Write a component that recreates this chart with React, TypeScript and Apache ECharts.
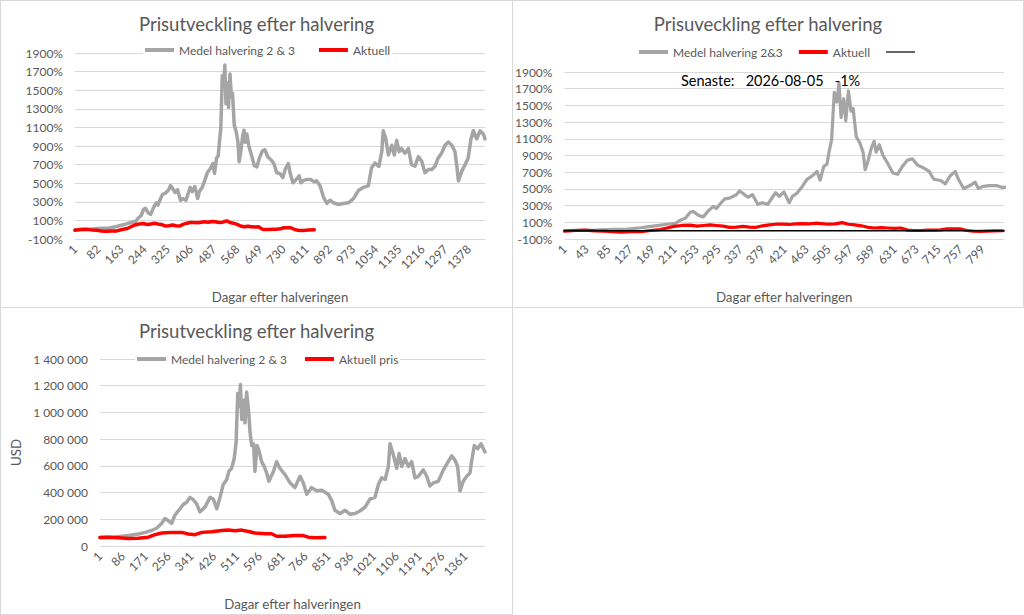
import React, { useEffect, useRef } from "react";
import * as echarts from "echarts";

const FONT = "Lato, 'Liberation Sans', sans-serif";
const TXT = "#595959";
const GRIDC = "#d9d9d9";
const GRAY = "#a5a5a5";
const RED = "#ff0000";

const TITLE_A = "Prisutveckling efter halvering";
const TITLE_B = "Prisuveckling efter halvering";
const X_NAME = "Dagar efter halveringen";
const LATEST_DATE = "2026-08-05";

const grayDays = [
  1, 27, 53, 71, 97, 122, 147, 159, 178, 197, 213, 222, 232, 241, 247, 257, 266, 276, 285, 291,
  301, 307, 316, 329, 335, 342, 351, 360, 370, 379, 389, 398, 404, 411, 420, 430, 436, 445, 455, 464,
  474, 483, 489, 496, 502, 506, 511, 516, 521, 525, 529, 534, 538, 543, 548, 552, 558, 565, 571, 575,
  580, 587, 592, 596, 602, 609, 618, 628, 637, 646, 656, 665, 675, 687, 697, 706, 719, 728, 737, 747,
  753, 763, 775, 785, 791, 800, 813, 825, 838, 846, 858, 870, 882, 893, 904, 922, 939, 957, 975, 992,
  1010, 1027, 1038, 1050, 1064, 1074, 1079, 1088, 1097, 1109, 1118, 1126, 1135, 1143, 1155, 1167, 1178, 1190, 1202, 1214,
  1225, 1237, 1249, 1260, 1271, 1283, 1295, 1307, 1319, 1330, 1336, 1342, 1354, 1365, 1376, 1386, 1394, 1406, 1418, 1429,
  1435,
];
const grayPct = [
  0, 3, 5, 10, 15, 18, 35, 45, 60, 77, 88, 125, 150, 220, 230, 183, 165, 240, 290, 265,
  340, 380, 390, 430, 475, 445, 400, 430, 315, 335, 315, 400, 455, 410, 465, 335, 410, 450, 530, 615,
  655, 710, 605, 770, 795, 940, 1090, 1655, 1540, 1770, 1355, 1580, 1315, 1675, 1430, 1465, 1125, 1050, 940, 730,
  825, 995, 1070, 940, 1030, 900, 805, 690, 675, 770, 845, 860, 785, 750, 710, 615, 600, 560, 655, 710,
  615, 505, 540, 580, 505, 530, 540, 540, 515, 525, 473, 351, 282, 317, 292, 271, 282, 289, 334, 421,
  456, 473, 664, 717, 682, 838, 1064, 977, 803, 908, 803, 960, 838, 873, 821, 873, 699, 682, 786, 734,
  612, 647, 647, 682, 769, 821, 908, 943, 908, 838, 699, 525, 630, 699, 769, 977, 1064, 977, 1064, 1030,
  977,
];

const redDays = [
  1, 21, 40, 59, 78, 93, 109, 128, 147, 166, 184, 197, 210, 225, 241, 254, 266, 279, 291, 304,
  316, 329, 342, 354, 367, 379, 392, 404, 417, 430, 442, 455, 467, 480, 492, 505, 518, 531, 543, 555,
  568, 580, 593, 606, 618, 631, 643, 656, 668, 681, 693, 706, 719, 731, 744, 756, 769, 781, 794, 807,
  819, 838,
];
const redPct = [
  -6, 2, 6, -2, -6, -13, -17, -13, -13, 2, 13, 32, 51, 62, 66, 55, 62, 70, 62, 55,
  40, 43, 51, 43, 40, 58, 70, 77, 77, 74, 81, 85, 81, 89, 85, 77, 81, 96, 77, 70,
  58, 40, 32, 36, 32, 28, 32, 6, 2, 2, 6, 6, 9, 21, 21, 21, 2, -6, -9, -6,
  -2, -1,
];

// Zero reference line (chart 2)
const zeroDays = [1, 840];
const zeroPct = [0, 0];

const grayUsdDays = [
  1, 57, 107, 144, 169, 193, 212, 231, 243, 256, 268, 280, 299, 311, 324, 336, 349, 361, 373, 392,
  411, 423, 436, 448, 460, 473, 481, 491, 501, 508, 514, 519, 524, 529, 536, 541, 547, 554, 560, 566,
  573, 578, 586, 593, 603, 613, 622, 630, 647, 659, 671, 690, 709, 727, 746, 758, 771, 789, 808, 827,
  851, 864, 876, 895, 914, 932, 951, 969, 988, 1007, 1025, 1038, 1050, 1063, 1075, 1081, 1094, 1106, 1115, 1125,
  1137, 1150, 1162, 1174, 1187, 1205, 1218, 1230, 1243, 1261, 1280, 1298, 1311, 1323, 1333, 1342, 1354, 1367, 1379, 1385,
  1395, 1408, 1420, 1435,
];
const grayUsd = [
  63000, 68000, 78000, 90000, 102000, 116000, 133000, 170000, 206000, 189000, 170000, 231000, 279000, 311000, 328000, 364000, 345000, 316000, 255000, 291000,
  364000, 352000, 279000, 364000, 461000, 498000, 558000, 582000, 655000, 777000, 1141000, 1044000, 1209000, 947000, 1092000, 922000, 1153000, 1019000, 849000, 752000,
  765000, 558000, 752000, 716000, 631000, 595000, 546000, 485000, 558000, 631000, 582000, 534000, 473000, 437000, 522000, 473000, 388000, 437000, 413000, 417000,
  388000, 340000, 267000, 243000, 267000, 238000, 243000, 262000, 291000, 352000, 364000, 461000, 510000, 498000, 595000, 765000, 680000, 582000, 692000, 595000,
  655000, 595000, 631000, 510000, 522000, 570000, 522000, 449000, 473000, 485000, 570000, 631000, 675000, 643000, 595000, 413000, 485000, 522000, 546000, 631000,
  752000, 728000, 765000, 704000,
];
const redUsdDays = [
  1, 32, 69, 107, 144, 181, 206, 231, 268, 305, 330, 355, 380, 417, 454, 479, 504, 529, 554, 578,
  616, 640, 659, 690, 727, 758, 777, 802, 839,
];
const redUsd = [
  63000, 66000, 61000, 56000, 58000, 66000, 85000, 97000, 102000, 102000, 90000, 85000, 102000, 107000, 116000, 119000, 114000, 119000, 109000, 97000,
  92000, 92000, 73000, 73000, 78000, 78000, 66000, 61000, 64000,
];

const pairs = (xs: number[], ys: number[]) => xs.map((x, i) => [x, ys[i]]);
const spaced = (v: number) => String(v).replace(/\B(?=(\d{3})+(?!\d))/g, " ");

const axisLabelBase = { color: TXT, fontSize: 12, fontFamily: FONT };

// legend icons: thick bar and thin bar (bounding box kept by the move-to points)
const ICON_THICK = "rect";
const ICON_THIN = "path://M0,0M29,4M0,1.4L29,1.4L29,2.6L0,2.6Z";

function xAxis(max: number, interval: number) {
  return {
    type: "value",
    min: 1,
    max,
    interval,
    axisLine: { show: false },
    axisTick: { show: false },
    splitLine: { show: false },
    axisLabel: {
      ...axisLabelBase,
      rotate: 45,
      margin: 8,
      showMaxLabel: false,
      formatter: (v: number) => String(v),
    },
    name: X_NAME,
    nameLocation: "middle",
    nameGap: 51,
    nameTextStyle: { color: TXT, fontSize: 13.3, fontFamily: FONT },
  };
}

function pctYAxis() {
  return {
    type: "value",
    min: -100,
    max: 1900,
    interval: 200,
    axisLine: { show: false },
    axisTick: { show: false },
    axisLabel: { ...axisLabelBase, margin: 12, formatter: (v: number) => v + "%" },
    splitLine: { lineStyle: { color: GRIDC, width: 1 } },
  };
}

function lineSeries(name: string, data: number[][], color: string, width: number) {
  return {
    name,
    type: "line",
    data,
    symbol: "none",
    silent: true,
    lineStyle: { color, width, join: "round", cap: "round" },
    itemStyle: { color },
  };
}

function titleOpt(text: string) {
  return {
    text,
    left: "center",
    top: 14,
    padding: 0,
    textStyle: { color: TXT, fontSize: 18.5, fontWeight: "normal", fontFamily: FONT },
  };
}

function legendOpt(left: number, top: number, gap: number, names: string[], icons: string[]) {
  return {
    left,
    top,
    itemGap: gap,
    itemWidth: 29,
    itemHeight: 4,
    padding: [1, 2],
    backgroundColor: "#ffffff",
    selectedMode: false,
    textStyle: { color: TXT, fontSize: 12, fontFamily: FONT },
    data: names.map((n, i) => ({ name: n, icon: icons[i] })),
  };
}

const option1 = {
  animation: false,
  textStyle: { fontFamily: FONT },
  title: titleOpt(TITLE_A),
  legend: legendOpt(143, 43, 24, ["Medel halvering 2 & 3", "Aktuell"], [ICON_THICK, ICON_THICK]),
  grid: { left: 75, right: 28, top: 53, bottom: 63 },
  xAxis: xAxis(1435, 81),
  yAxis: pctYAxis(),
  series: [
    lineSeries("Medel halvering 2 & 3", pairs(grayDays, grayPct), GRAY, 3.5),
    lineSeries("Aktuell", pairs(redDays, redPct), RED, 3.5),
  ],
};

const option2 = {
  animation: false,
  textStyle: { fontFamily: FONT },
  title: titleOpt(TITLE_B),
  legend: legendOpt(125, 45, 16, ["Medel halvering 2&3", "Aktuell", " "], [ICON_THICK, ICON_THICK, ICON_THIN]),
  grid: { left: 49, right: 20, top: 72, bottom: 59 },
  xAxis: xAxis(840, 42),
  yAxis: pctYAxis(),
  graphic: [
    {
      type: "text",
      left: 169,
      top: 73,
      silent: true,
      style: {
        text: "Senaste:   " + LATEST_DATE + "   " + redPct[redPct.length - 1] + "%",
        fill: "#000000",
        fontSize: 14.5,
        fontFamily: FONT,
      },
      z: 10,
    },
  ],
  series: [
    lineSeries("Medel halvering 2&3", pairs(grayDays, grayPct), GRAY, 3.2),
    lineSeries("Aktuell", pairs(redDays, redPct), RED, 3.2),
    lineSeries(" ", pairs(zeroDays, zeroPct), "#000000", 1.5),
  ],
};

const option3 = {
  animation: false,
  textStyle: { fontFamily: FONT },
  title: titleOpt(TITLE_A),
  legend: legendOpt(135, 45, 18, ["Medel halvering 2 & 3", "Aktuell pris"], [ICON_THICK, ICON_THICK]),
  grid: { left: 100, right: 28, top: 52, bottom: 63 },
  xAxis: xAxis(1435, 85),
  yAxis: {
    type: "value",
    min: 0,
    max: 1400000,
    interval: 200000,
    axisLine: { show: false },
    axisTick: { show: false },
    axisLabel: { ...axisLabelBase, margin: 12, formatter: (v: number) => spaced(v) },
    splitLine: { lineStyle: { color: GRIDC, width: 1 } },
    name: "USD",
    nameLocation: "middle",
    nameGap: 75,
    nameRotate: 90,
    nameTextStyle: { color: TXT, fontSize: 13.3, fontFamily: FONT },
  },
  series: [
    lineSeries("Medel halvering 2 & 3", pairs(grayUsdDays, grayUsd), GRAY, 3.5),
    lineSeries("Aktuell pris", pairs(redUsdDays, redUsd), RED, 3.5),
  ],
};

function Chart({ option, style }: { option: any; style: React.CSSProperties }) {
  const ref = useRef<HTMLDivElement>(null);
  useEffect(() => {
    const chart = echarts.init(ref.current as HTMLDivElement, null, { renderer: "svg" });
    chart.setOption(option);
    return () => chart.dispose();
  }, [option]);
  return <div ref={ref} style={style} />;
}

const panelBorder = (left: number, top: number, width: number, height: number): React.CSSProperties => ({
  position: "absolute",
  left,
  top,
  width,
  height,
  border: "1px solid #d9d9d9",
  boxSizing: "border-box",
  pointerEvents: "none",
});

export default function App() {
  return (
    <div style={{ position: "fixed", left: 0, top: 0, width: 1024, height: 615, background: "#ffffff", overflow: "hidden" }}>
      <Chart option={option1} style={{ position: "absolute", left: 0, top: 0, width: 513, height: 308 }} />
      <Chart option={option2} style={{ position: "absolute", left: 512, top: 0, width: 512, height: 308 }} />
      <Chart option={option3} style={{ position: "absolute", left: 0, top: 307, width: 513, height: 308 }} />
      <div style={panelBorder(0, 0, 513, 308)} />
      <div style={panelBorder(512, 0, 512, 308)} />
      <div style={panelBorder(0, 307, 513, 308)} />
    </div>
  );
}
